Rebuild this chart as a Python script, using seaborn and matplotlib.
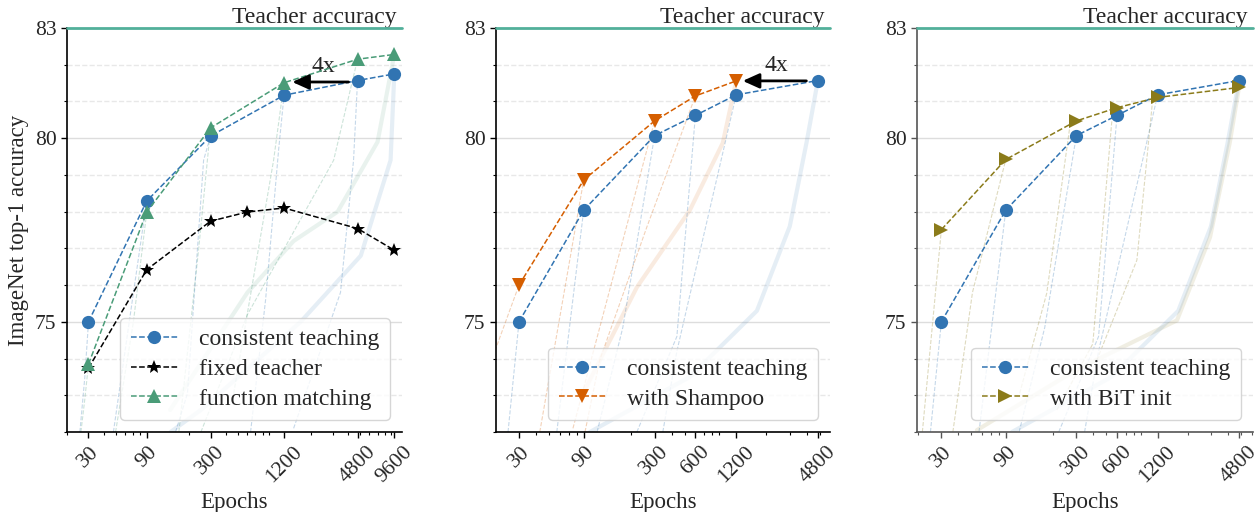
import matplotlib
matplotlib.use("Agg")
import matplotlib.pyplot as plt
import matplotlib.ticker as mticker
import seaborn as sns

sns.set_style("ticks")
plt.rcParams["font.family"] = ["Liberation Serif", "DejaVu Serif"]
plt.rcParams["mathtext.fontset"] = "stix"

# ---- final accuracies (markers) ----
p1_epochs = [30, 90, 300, 1200, 4800, 9600]
p1_consistent = [75.0, 78.29, 80.06, 81.17, 81.57, 81.75]
p1_function = [73.85, 77.99, 80.28, 81.51, 82.15, 82.28]
p1_fixed_epochs = [30, 90, 300, 600, 1200, 4800, 9600]
p1_fixed = [73.74, 76.42, 77.74, 77.99, 78.10, 77.54, 76.95]

p23_epochs = [30, 90, 300, 600, 1200, 4800]
p23_consistent = [75.0, 78.04, 80.07, 80.62, 81.18, 81.57]
p2_shampoo_epochs = [30, 90, 300, 600, 1200]
p2_shampoo = [76.0, 78.86, 80.47, 81.15, 81.56]
p3_bit = [77.51, 79.42, 80.47, 80.83, 81.11, 81.38]

teacher_acc = 83.0

p1_ticks = [30, 90, 300, 1200, 4800, 9600]
p23_ticks = [30, 90, 300, 600, 1200, 4800]

# ---- faint training curves (epoch, accuracy) ----
p1_ct_runs = [
    ([25.5, 28, 30], [72.0, 73.5, 75.0]),
    ([48, 66, 90], [72.0, 75.2, 78.29]),
    ([155, 194, 263, 300], [72.0, 73.05, 79.4, 80.06]),
    ([638, 847, 1084, 1200], [72.0, 75.6, 79.7, 81.17]),
    ([1437, 3480, 4450, 4800], [72.1, 75.8, 79.4, 81.57]),
    ([141, 250, 1640, 5100, 8950, 9600], [72.0, 72.6, 75.0, 76.8, 79.4, 81.75]),
]
p1_fm_runs = [
    ([26, 28, 30], [72.0, 72.9, 73.85]),
    ([50, 70, 90], [72.0, 75.0, 77.99]),
    ([165, 240, 300], [72.0, 77.0, 80.28]),
    ([464, 985, 1200], [73.05, 79.4, 81.51]),
    ([250, 602, 3057, 4800], [72.0, 75.2, 79.4, 82.15]),
    ([140, 602, 1437, 3300, 7000, 9600], [72.6, 75.8, 77.2, 78.0, 79.9, 82.28]),
]
p23_ct_runs = [
    ([24.9, 30], [72.0, 75.0]),
    ([57, 90], [72.0, 78.04]),
    ([113, 175, 300], [72.0, 74.85, 80.07]),
    ([222, 438, 600], [72.0, 74.6, 80.62]),
    ([345, 438, 1200], [72.0, 74.2, 81.18]),
    ([100, 546, 1705, 2980, 3970, 4800], [72.0, 73.5, 75.3, 77.6, 79.9, 81.57]),
]
p2_sh_runs = [
    ([18, 30], [73.76, 76.0]),
    ([42.7, 90], [72.0, 78.86]),
    ([75, 300], [72.1, 80.47]),
    ([92, 118, 263, 600], [72.0, 73.95, 77.58, 81.15]),
    ([89, 222, 546, 955, 1200], [73.05, 75.94, 78.04, 79.87, 81.56]),
]
p3_bit_runs = [
    ([21.7, 30], [72.0, 77.51]),
    ([36.5, 51, 90], [72.0, 75.8, 79.42]),
    ([114, 181, 268, 300], [73.05, 75.78, 80.3, 80.47]),
    ([215, 397, 558, 600], [72.6, 74.4, 80.77, 80.83]),
    ([425, 842, 1107, 1200], [73.95, 76.68, 81.12, 81.11]),
    ([55, 302, 1668, 2930, 4100, 4800], [72.05, 73.7, 75.04, 77.3, 79.87, 81.38]),
]

BLUE = "#3174b2"
GREEN = "#4a9c78"
ORANGE = "#d55e00"
OLIVE = "#8b7b1a"
TEAL = "#52b09a"

fig = plt.figure(figsize=(12.59, 5.12), dpi=100)
positions = [
    [67 / 1259, 80 / 512, 335 / 1259, 404 / 512],
    [496 / 1259, 80 / 512, 334 / 1259, 404 / 512],
    [917 / 1259, 80 / 512, 336 / 1259, 404 / 512],
]
axes = [fig.add_axes(p) for p in positions]


def draw_runs(ax, runs, color):
    for i, (ex, acc) in enumerate(runs):
        if i == len(runs) - 1 and len(ex) > 4:
            ax.plot(ex, acc, color=color, lw=3, alpha=0.12, zorder=1)
        else:
            ax.plot(ex, acc, color=color, lw=0.8, ls="--", alpha=0.28, zorder=1)


def style_axis(ax, ticks, xlim, spine_color="black"):
    ax.set_xscale("log")
    ax.set_xlim(*xlim)
    ax.set_ylim(72, 83)
    ax.xaxis.set_major_locator(mticker.FixedLocator(ticks))
    ax.xaxis.set_major_formatter(mticker.FixedFormatter([str(t) for t in ticks]))
    ax.xaxis.set_minor_locator(mticker.LogLocator(base=10, subs=range(2, 10), numticks=20))
    ax.xaxis.set_minor_formatter(mticker.NullFormatter())
    ax.yaxis.set_major_locator(mticker.FixedLocator([75, 80, 83]))
    ax.yaxis.set_minor_locator(mticker.MultipleLocator(1))
    ax.yaxis.grid(True, which="major", color="#dddddd", lw=1.0)
    ax.yaxis.grid(True, which="minor", color="#e8e8e8", lw=1.0, ls="--")
    ax.set_axisbelow(True)
    ax.tick_params(axis="both", which="major", labelsize=15.5, length=4, width=1, color=spine_color)
    ax.tick_params(axis="both", which="minor", length=2.5, width=0.8, color=spine_color)
    for lbl in ax.get_xticklabels():
        lbl.set_rotation(45)
        lbl.set_ha("center")
    sns.despine(ax=ax)
    for s in ["left", "bottom"]:
        ax.spines[s].set_color(spine_color)
        ax.spines[s].set_linewidth(1.2)
    ax.axhline(teacher_acc, color=TEAL, lw=2, clip_on=False, zorder=5)
    ax.text(0.985, 1.0, "Teacher accuracy", transform=ax.transAxes,
            ha="right", va="bottom", fontsize=17)
    ax.set_xlabel("Epochs", fontsize=16.5)


def main_line(ax, x, y, color, marker, ms, label):
    sns.lineplot(x=x, y=y, ax=ax, color=color, marker=marker, markersize=ms,
                 linestyle="--", linewidth=1.1, markeredgewidth=0,
                 label=label, zorder=4, sort=False)


def arrow(ax, tail, tip, yv, text_x):
    ax.annotate("", xy=(tip, yv), xytext=(tail, yv),
                arrowprops=dict(arrowstyle="-|>,head_length=1.0,head_width=0.45",
                                color="black", lw=2, shrinkA=0, shrinkB=0), zorder=6)
    ax.text(text_x, yv + 0.13, "4x", ha="center", va="bottom", fontsize=17)


legend_kw = dict(loc="lower right", fontsize=17, frameon=True, framealpha=0.8,
                 edgecolor="#cccccc", handlelength=2.0, handletextpad=0.9,
                 borderpad=0.45, labelspacing=0.35)

# ---- panel 1 ----
ax = axes[0]
draw_runs(ax, p1_fm_runs, GREEN)
draw_runs(ax, p1_ct_runs, BLUE)
main_line(ax, p1_epochs, p1_consistent, BLUE, "o", 9.5, "consistent teaching")
main_line(ax, p1_fixed_epochs, p1_fixed, "black", "*", 10, "fixed teacher")
main_line(ax, p1_epochs, p1_function, GREEN, "^", 9.5, "function matching")
style_axis(ax, p1_ticks, (20, 11100))
arrow(ax, 4050, 1400, 81.53, 2530)
ax.set_ylabel("ImageNet top-1 accuracy", fontsize=16.5)
ax.legend(**legend_kw)

# ---- panel 2 ----
ax = axes[1]
draw_runs(ax, p2_sh_runs, ORANGE)
draw_runs(ax, p23_ct_runs, BLUE)
main_line(ax, p23_epochs, p23_consistent, BLUE, "o", 9.5, "consistent teaching")
main_line(ax, p2_shampoo_epochs, p2_shampoo, ORANGE, "v", 9.5, "with Shampoo")
style_axis(ax, p23_ticks, (20.3, 5900))
arrow(ax, 3950, 1340, 81.56, 2380)
ax.set_ylabel("")
ax.legend(**legend_kw)

# ---- panel 3 ----
ax = axes[2]
draw_runs(ax, p3_bit_runs, OLIVE)
draw_runs(ax, p23_ct_runs, BLUE)
main_line(ax, p23_epochs, p23_consistent, BLUE, "o", 9.5, "consistent teaching")
main_line(ax, p23_epochs, p3_bit, OLIVE, ">", 9.5, "with BiT init")
style_axis(ax, p23_ticks, (19.8, 6100), spine_color="#555555")
ax.set_ylabel("")
ax.legend(**legend_kw)

fig.savefig("out.png", dpi=100)
